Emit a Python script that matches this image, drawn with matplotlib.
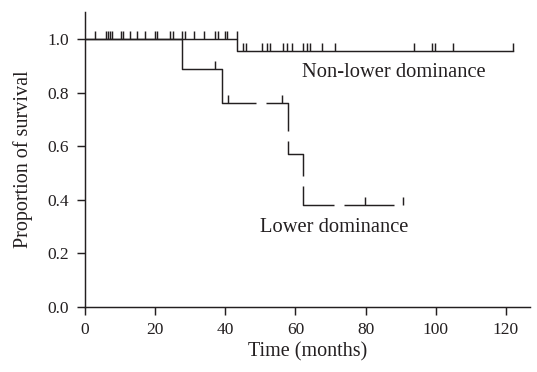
import numpy as np
import matplotlib
matplotlib.use("Agg")
import matplotlib.pyplot as plt

# ---- data ----
# Non-lower dominance group
nl_event_times = [43.3]
nl_event_levels = [0.956]
nl_end = 122.2
nl_censor = [2.9, 6.0, 6.6, 7.1, 7.7, 10.2, 10.9, 12.8, 14.9, 17.2, 19.9, 20.6,
             24.2, 25.0, 27.8, 28.6, 31.1, 33.9, 37.2, 37.9, 39.9, 40.6, 43.3,
             45.0, 45.9, 50.4, 51.8, 52.8, 56.6, 57.5, 59.0, 62.3, 63.2, 64.2,
             67.5, 71.3, 93.8, 98.9, 99.8, 105.0, 122.2]

# Lower dominance group
lo_event_times = [27.8, 39.0, 58.0, 62.3]
lo_event_levels = [0.889, 0.762, 0.571, 0.381]
lo_end = 90.8
lo_censor = [37.1, 40.9, 56.1, 79.9, 90.8]

x_ticks = [0, 20, 40, 60, 80, 100, 120]
y_ticks = [0.0, 0.2, 0.4, 0.6, 0.8, 1.0]

INK = "#231f20"
plt.rcParams["font.family"] = ["Liberation Serif", "DejaVu Serif"]
plt.rcParams["lines.scale_dashes"] = False


def step_arrays(ev_t, ev_s, end):
    t = [0.0] + list(ev_t) + [end]
    s = [1.0] + list(ev_s) + [ev_s[-1]]
    return np.array(t), np.array(s)


def level_at(ev_t, ev_s, times):
    levels = np.concatenate([[1.0], ev_s])
    idx = np.searchsorted(np.array(ev_t), np.array(times), side="left")
    return levels[idx]


fig = plt.figure(figsize=(5.37, 3.72), dpi=100)
ax = fig.add_axes([85 / 537, 65.3 / 372, (530.3 - 85) / 537, 294.5 / 372])

LW = 1.05

# lower dominance (drawn with long dashes like the reference)
px = 0.72  # points per pixel at 100 dpi
dash = [235, 10, 50, 10, 50, 10, 50, 10, 50, 10, 50, 10]
t, s = step_arrays(lo_event_times, lo_event_levels, lo_end)
ax.plot(t, s, drawstyle="steps-post", color=INK, lw=LW,
        linestyle=(0, [d * px for d in dash]))
ax.plot(lo_censor, level_at(lo_event_times, lo_event_levels, lo_censor),
        linestyle="none", marker=2, markersize=5.8, mew=LW, color=INK)

# non-lower dominance
t, s = step_arrays(nl_event_times, nl_event_levels, nl_end)
ax.plot(t, s, drawstyle="steps-post", color=INK, lw=LW)
ax.plot(nl_censor, level_at(nl_event_times, nl_event_levels, nl_censor),
        linestyle="none", marker=2, markersize=5.8, mew=LW, color=INK)

ax.text(88.0, 0.873, "Non-lower dominance", ha="center", va="center",
        fontsize=14.8, color=INK)
ax.text(71.1, 0.294, "Lower dominance", ha="center", va="center",
        fontsize=14.8, color=INK)

ax.set_xlim(0, 127)
ax.set_ylim(0, 1.10)
ax.set_xticks(x_ticks)
ax.set_xticklabels([str(v) for v in x_ticks])
ax.set_yticks(y_ticks)
ax.set_yticklabels([f"{v:.1f}" for v in y_ticks])

for side in ("top", "right"):
    ax.spines[side].set_visible(False)
for side in ("left", "bottom"):
    ax.spines[side].set_linewidth(LW)
    ax.spines[side].set_color(INK)

ax.tick_params(axis="both", direction="out", length=5.8, width=LW,
               color=INK, labelcolor=INK, labelsize=12.5)
ax.tick_params(axis="x", pad=5)
ax.tick_params(axis="y", pad=6)

ax.set_xlabel("Time (months)", fontsize=14.5, color=INK, labelpad=3)
ax.set_ylabel("Proportion of survival", fontsize=14.5, color=INK, labelpad=10)

fig.savefig("out.png", dpi=100)
